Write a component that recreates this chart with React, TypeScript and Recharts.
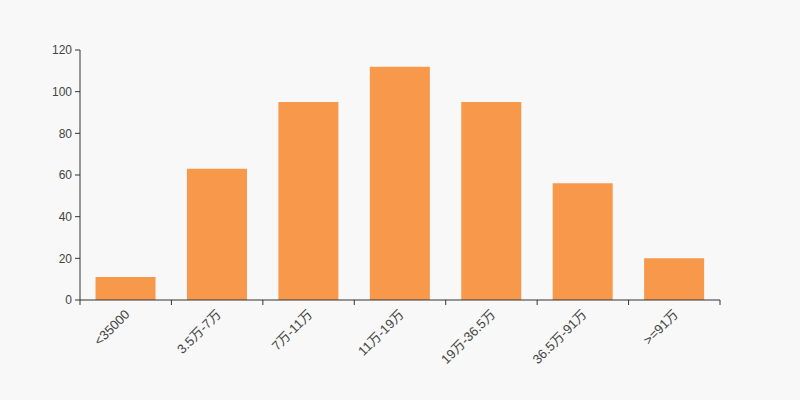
import React from 'react';
import { BarChart, Bar, XAxis, YAxis } from 'recharts';

const categories = ['<35000', '3.5万-7万', '7万-11万', '11万-19万', '19万-36.5万', '36.5万-91万', '>=91万'];
const counts = [11, 63, 95, 112, 95, 56, 20];
const yTicks = [0, 20, 40, 60, 80, 100, 120];

const data = categories.map((name, i) => ({ name, value: counts[i] }));

const FONT = '"Liberation Sans", Arial, "Noto Sans CJK SC", sans-serif';
const AXIS = '#333';
const TEXT = '#444';

const XTick = (props: any) => {
  const { x, y, payload, index, visibleTicksCount } = props;
  const half = payload && payload.offset ? payload.offset : 640 / 7 / 2;
  const last = index === (visibleTicksCount ?? categories.length) - 1;
  const ax = x + 1.5;
  const ay = y + 12;
  return (
    <g>
      <line x1={x - half} y1={y} x2={x - half} y2={y + 5} stroke={AXIS} strokeWidth={1} />
      {last && <line x1={x + half} y1={y} x2={x + half} y2={y + 5} stroke={AXIS} strokeWidth={1} />}
      <text
        x={ax}
        y={ay}
        dy="0.35em"
        textAnchor="end"
        transform={`rotate(-45, ${ax}, ${ay})`}
        fill={TEXT}
        fontSize={13}
        fontFamily={FONT}
      >
        {payload.value}
      </text>
    </g>
  );
};

export default function App() {
  return (
    <div style={{ position: 'absolute', left: 0, top: 0, width: 800, height: 400, background: '#f8f8f8' }}>
      <BarChart width={800} height={400} data={data} margin={{ top: 50, right: 80, bottom: 0, left: 20 }} barCategoryGap="17%">
        <XAxis
          dataKey="name"
          height={100}
          tickSize={0}
          tickMargin={0}
          tickLine={false}
          axisLine={{ stroke: AXIS }}
          tick={<XTick />}
          interval={0}
        />
        <YAxis
          width={60}
          domain={[0, 120]}
          ticks={yTicks}
          tickSize={5}
          tickMargin={3}
          axisLine={{ stroke: AXIS }}
          tickLine={{ stroke: AXIS }}
          tick={{ fill: TEXT, fontSize: 12, fontFamily: FONT }}
        />
        <Bar dataKey="value" fill="#f7984a" isAnimationActive={false} />
      </BarChart>
    </div>
  );
}
